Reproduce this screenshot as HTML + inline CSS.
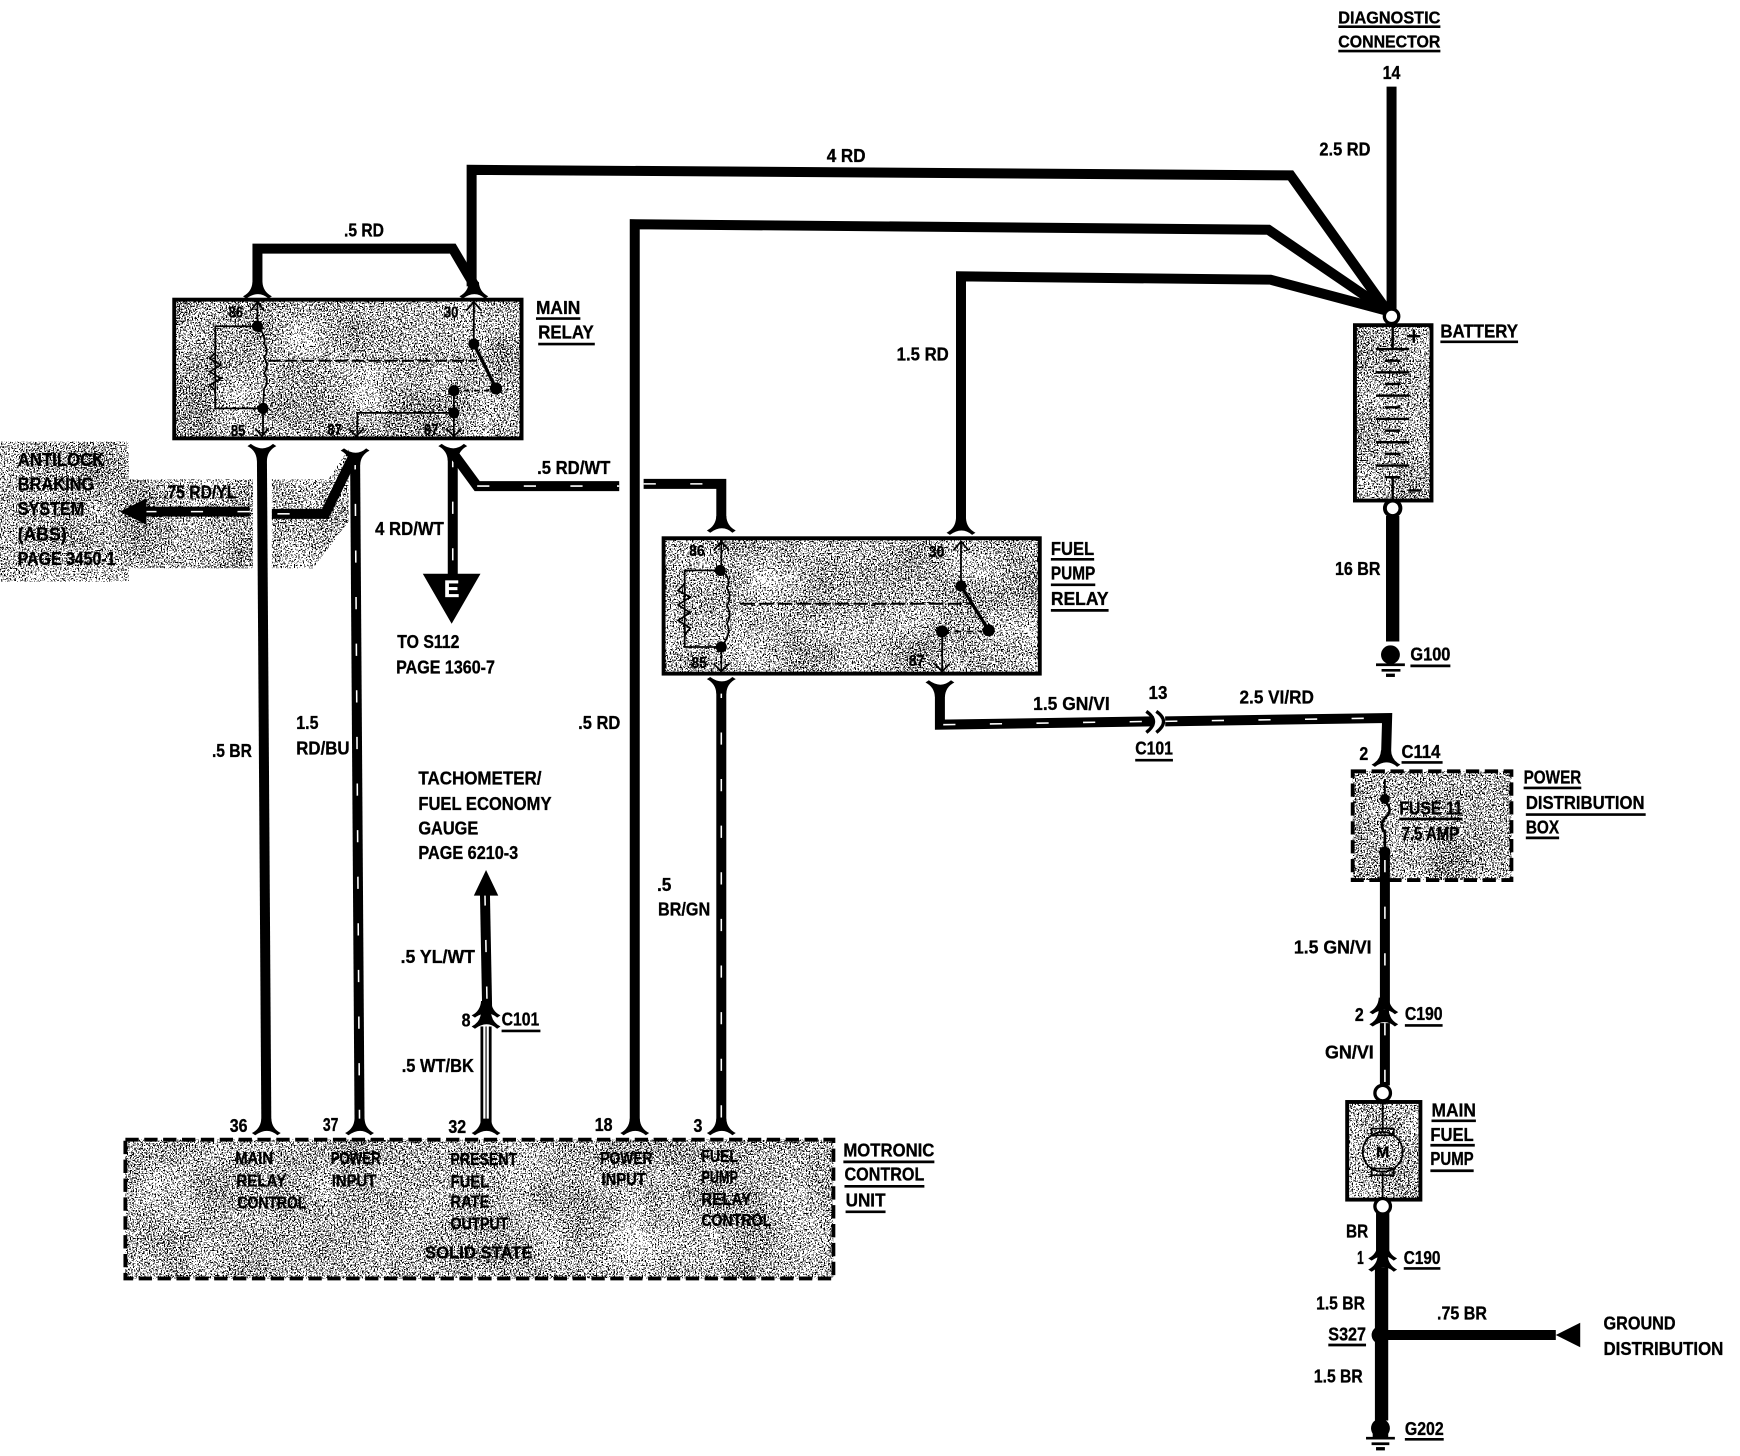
<!DOCTYPE html>
<html><head><meta charset="utf-8"><title>Wiring diagram</title>
<style>
html,body{margin:0;padding:0;background:#fff}
svg{display:block}
text{font-family:"Liberation Sans",sans-serif;font-weight:bold;font-size:17px;fill:#000;stroke:#000;stroke-width:.3}
.s{font-size:14px}
.m{font-size:16px}
.w{fill:none;stroke:#000;stroke-width:9;stroke-linejoin:miter}
.h{fill:none;stroke:#000;stroke-width:12}
.t{fill:none;stroke:#fff;stroke-width:1.4;stroke-dasharray:11 31}
.l{fill:none;stroke:#000;stroke-width:1.6}
.u{fill:none;stroke:#000;stroke-width:2.4}
.b{fill:none;stroke:#000;stroke-width:3.5}
.d{fill:none;stroke:#000;stroke-width:3.5;stroke-dasharray:12 5}
</style></head><body>
<svg width="1740" height="1456" viewBox="0 0 1568 1312" xmlns="http://www.w3.org/2000/svg">
<defs>
<filter id="n" x="0" y="0" width="100%" height="100%" color-interpolation-filters="sRGB">
<feTurbulence type="fractalNoise" baseFrequency="0.75" numOctaves="2" seed="4" result="a"/>
<feTurbulence type="fractalNoise" baseFrequency="0.02" numOctaves="2" seed="9" result="b"/>
<feComposite in="a" in2="b" operator="arithmetic" k1="0" k2="0.88" k3="0.12" k4="0"/>
<feColorMatrix type="matrix" values="0 0 0 0 0  0 0 0 0 0  0 0 0 0 0  1 0 0 0 0"/>
<feComponentTransfer result="c"><feFuncA type="discrete" tableValues="0 0 0 0 0 0 0 0 0 0 0 1 1 1 1 1 1 1 1 1"/></feComponentTransfer>
<feComposite in="c" in2="SourceAlpha" operator="in"/>
</filter>
<path id="f" d="M-13 3Q-5 -1 -4.500 -10L4.500 -10Q5 -1 13 3L10 5Q1 -3 -10 5Z"/>
</defs>
<rect width="1568" height="1312" fill="#fff"/>

<!-- stipple regions -->
<g filter="url(#n)">
<rect x="157" y="270" width="313" height="125"/>
<rect x="0" y="398" width="116" height="126"/>
<path d="M116 432H228V512H116Z"/>
<path d="M245 432H296L314 405V470L282 512H245Z"/>
<rect x="598" y="485" width="339" height="122"/>
<rect x="1221" y="293" width="69" height="158"/>
<rect x="1219" y="695" width="143" height="98"/>
<rect x="1214" y="993" width="66" height="88"/>
<rect x="113" y="1027" width="638" height="125"/>
</g>

<!-- boxes -->
<rect class="b" x="157" y="270" width="313" height="125"/>
<rect class="b" x="598" y="485" width="339" height="122"/>
<rect class="b" x="1221" y="293" width="69" height="158" stroke-width="4"/>
<rect class="b" x="1214" y="993" width="66" height="88"/>
<rect class="d" x="1219" y="695" width="143" height="98"/>
<rect class="d" x="113" y="1027" width="638" height="125"/>

<!-- solid wires -->
<path class="w" d="M425 258V153L1163 158L1250 280"/>
<path class="w" d="M232 258V224H408L428 258"/>
<path class="w" d="M572 1012V202L1143 207L1250 280"/>
<path class="w" d="M866 472V249L1145 252L1250 280"/>
<path class="w" d="M1254 78V282" stroke-width="10"/>
<path class="h" d="M1255 465V578"/>
<path class="w" d="M236 408L240 1012" stroke-width="10"/>
<path class="h" d="M1246 1093V1132"/>
<path class="h" d="M1245 1142V1280"/>
<path class="w" d="M1244 1203H1402"/>

<!-- twisted wires -->
<path class="w" d="M320 412L324 1012"/><path class="t" d="M320 412L324 1012"/>
<path class="w" d="M408 410V518"/><path class="t" d="M408 410V518"/>
<path class="w" d="M408 408L430 438H558" stroke-width="7"/><path class="t" d="M430 438H558"/>
<path class="w" d="M580 436H650V470" stroke-width="7"/><path class="t" d="M580 436H650"/>
<path class="w" d="M125 461L225 461"/><path class="t" d="M130 461L225 461"/>
<path class="w" d="M245 463H293L318 412"/><path class="t" d="M250 463H290"/>
<path class="w" d="M650 618V1012"/><path class="t" d="M650 618V1012"/>
<path class="w" d="M847 622V653L1040 650" stroke-width="7"/><path class="t" d="M850 653L1040 650"/>
<path class="w" d="M1050 650L1250 647L1249 682" stroke-width="7"/><path class="t" d="M1050 650L1248 647"/>
<path class="w" d="M1248 765V905"/><path class="t" d="M1248 775V905"/>
<path class="w" d="M1248 922V978"/><path class="t" d="M1248 922V978"/>
<path class="w" d="M437 805L439 910" stroke-width="8"/><path class="t" d="M437 805L439 910"/>
<path d="M438 925L438 1012" fill="none" stroke="#000" stroke-width="10"/><path d="M438 925L438 1012" fill="none" stroke="#fff" stroke-width="5"/><path d="M438 925L438 1012" fill="none" stroke="#000" stroke-width="1"/>

<!-- arrowheads and triangles -->
<path d="M108 461L132 449V473Z"/>
<path d="M381 517H433L407 562Z"/>
<path d="M438 784L449 807H427Z"/>
<path d="M1402 1203L1424 1192V1214Z"/>

<!-- connector forks opening down -->
<use href="#f" x="232" y="264"/><use href="#f" x="427" y="264"/>
<use href="#f" x="650" y="475"/><use href="#f" x="866" y="477"/>
<use href="#f" x="240" y="1018"/><use href="#f" x="324" y="1018"/><use href="#f" x="438" y="1018"/>
<use href="#f" x="572" y="1018"/><use href="#f" x="650" y="1018"/><use href="#f" x="1249" y="686"/>
<use href="#f" x="1246" y="1131"/><use href="#f" x="1246" y="1141"/>
<use href="#f" x="438" y="912"/><use href="#f" x="438" y="922"/>
<use href="#f" x="1247" y="909"/><use href="#f" x="1247" y="920"/>
<!-- forks opening up -->
<g transform="scale(1,-1)">
<use href="#f" x="236" y="-405"/><use href="#f" x="320" y="-409"/><use href="#f" x="408" y="-405"/>
<use href="#f" x="650" y="-615"/><use href="#f" x="847" y="-618"/>
</g>

<!-- main relay internals -->
<g class="l">
<path d="M232 272V294H194V368H237V392"/>
<path d="M232 294Q240 302 238 310Q243 316 238 322Q243 330 238 336Q243 344 238 350L237 368" fill="none"/>
<path d="M194 318L189 323L199 329L189 335L199 341L189 347L194 352" fill="none"/>
<path d="M242 325H430" stroke-width="1.8" stroke-dasharray="11 4"/>
<path d="M427 272V310"/>
<path d="M427 310L447 350" stroke-width="3"/>
<path d="M409 352H444" stroke-dasharray="5 4"/>
<path d="M409 352V392"/>
<path d="M409 372H322V394"/>
</g>
<path class="l" d="M226 280L232 272L238 280M420 280L427 272L434 280M230 386L236 393L242 386M314 386L321 393L328 386M402 386L409 393L416 386"/>
<circle cx="232" cy="294" r="5"/><circle cx="237" cy="368" r="5"/><circle cx="427" cy="310" r="5"/><circle cx="447" cy="350" r="5.500"/><circle cx="409" cy="352" r="5"/><circle cx="409" cy="372" r="5"/>

<!-- fuel pump relay internals -->
<g class="l">
<path d="M650 488V514H617V583H650V604"/>
<path d="M650 514Q660 522 655 530Q660 538 655 546Q660 554 655 562Q660 570 650 583" fill="none"/>
<path d="M617 526L611 532L622 538L611 545L622 552L611 559L622 566L617 572" fill="none"/>
<path d="M667 544H877" stroke-width="1.8" stroke-dasharray="13 4"/>
<path d="M866 488V528"/>
<path d="M866 528L891 568" stroke-width="3"/>
<path d="M849 569H885" stroke-dasharray="6 5"/>
<path d="M849 569V604"/>
</g>
<path class="l" d="M643 496L650 488L657 496M859 496L866 488L873 496M643 598L650 605L657 598M842 598L849 605L856 598"/>
<circle cx="649" cy="514" r="5"/><circle cx="650" cy="583" r="5"/><circle cx="866" cy="528" r="5"/><circle cx="891" cy="568" r="5.500"/><circle cx="849" cy="569" r="5.500"/>

<!-- battery -->
<g class="l" style="stroke-width:2.2">
<path d="M1255 293V314M1240 314.500H1270M1248 325H1262M1240 335.500H1270M1248 346H1262M1240 356.500H1270M1248 367H1262M1240 377.500H1270M1248 388H1262M1240 398.500H1270M1248 409H1262M1240 419.500H1270M1248 430H1262M1255 430V452"/>
<path d="M1268 303H1280M1274 297V309M1269 442H1281"/>
</g>
<circle cx="1254" cy="285" r="6.500" fill="#fff" stroke="#000" stroke-width="3"/>
<circle cx="1255" cy="458" r="7" fill="#fff" stroke="#000" stroke-width="3.500"/>

<!-- grounds -->
<circle cx="1253" cy="590" r="8.500"/><path class="u" d="M1240 599H1266M1245 604H1262"/><path d="M1249 607H1257V610H1249Z"/>
<circle cx="1244" cy="1287" r="8.500"/><path d="M1237 1283H1251V1295H1237Z"/><path class="u" d="M1231 1296H1257M1236 1301H1252"/><path d="M1240 1304H1248V1307H1240Z"/>
<circle cx="1244" cy="1203" r="8"/>

<!-- C101 connector on 13 -->
<path d="M1033 641Q1046 650 1033 660" fill="none" stroke="#000" stroke-width="3"/>
<path d="M1042 641Q1055 650 1042 660" fill="none" stroke="#000" stroke-width="3"/>

<!-- fuse -->
<path d="M1248 702V720" class="l" stroke-width="2"/>
<path d="M1248 722Q1256 730 1249 736Q1242 744 1248 750L1248 768" fill="none" stroke="#000" stroke-width="2.400"/>
<circle cx="1248" cy="720" r="4.500"/><circle cx="1248" cy="768" r="5"/>

<!-- motor -->
<circle cx="1246" cy="985" r="7" fill="#fff" stroke="#000" stroke-width="3"/>
<circle cx="1246" cy="1087" r="7" fill="#fff" stroke="#000" stroke-width="3"/>
<path class="l" d="M1246 993V1019M1246 1057V1081"/>
<circle cx="1246" cy="1038" r="18" fill="none" stroke="#000" stroke-width="1.600"/>
<rect class="l" x="1236" y="1017" width="20" height="6" stroke-width="2"/>
<rect class="l" x="1236" y="1053" width="20" height="6" stroke-width="2"/>

<!-- labels -->
<text x="1206" y="21" textLength="92" lengthAdjust="spacingAndGlyphs" class="m">DIAGNOSTIC</text>
<text x="1206" y="43" textLength="92" lengthAdjust="spacingAndGlyphs" class="m">CONNECTOR</text>
<path class="u" d="M1206 24H1298M1206 46H1298"/>
<text x="1246" y="71" textLength="16" lengthAdjust="spacingAndGlyphs">14</text>
<text x="1189" y="140" textLength="46" lengthAdjust="spacingAndGlyphs">2.5 RD</text>
<text x="745" y="146" textLength="35" lengthAdjust="spacingAndGlyphs">4 RD</text>
<text x="310" y="213" textLength="36" lengthAdjust="spacingAndGlyphs">.5 RD</text>
<text x="483" y="283" textLength="40" lengthAdjust="spacingAndGlyphs">MAIN</text>
<text x="485" y="305" textLength="50" lengthAdjust="spacingAndGlyphs">RELAY</text>
<path class="u" d="M483 287H523M485 310H536"/>
<text x="1298" y="304" textLength="70" lengthAdjust="spacingAndGlyphs">BATTERY</text>
<path class="u" d="M1298 308H1368"/>
<text x="808" y="325" textLength="47" lengthAdjust="spacingAndGlyphs">1.5 RD</text>
<text x="484" y="427" textLength="66" lengthAdjust="spacingAndGlyphs">.5 RD/WT</text>
<text x="338" y="482" textLength="62" lengthAdjust="spacingAndGlyphs">4 RD/WT</text>
<text x="16" y="420" textLength="78" lengthAdjust="spacingAndGlyphs">ANTILOCK</text>
<text x="16" y="442" textLength="69" lengthAdjust="spacingAndGlyphs">BRAKING</text>
<text x="16" y="464" textLength="60" lengthAdjust="spacingAndGlyphs">SYSTEM</text>
<text x="16" y="487" textLength="44" lengthAdjust="spacingAndGlyphs">(ABS)</text>
<text x="16" y="509" textLength="88" lengthAdjust="spacingAndGlyphs">PAGE 3450-1</text>
<text x="147" y="449" textLength="66" lengthAdjust="spacingAndGlyphs">.75 RD/YL</text>
<text x="400" y="538" textLength="14" lengthAdjust="spacingAndGlyphs" style="fill:#fff;stroke:#fff;font-size:22px">E</text>
<text x="358" y="584" textLength="56" lengthAdjust="spacingAndGlyphs">TO S112</text>
<text x="357" y="607" textLength="89" lengthAdjust="spacingAndGlyphs">PAGE 1360-7</text>
<text x="947" y="500" textLength="39" lengthAdjust="spacingAndGlyphs">FUEL</text>
<text x="947" y="522" textLength="40" lengthAdjust="spacingAndGlyphs">PUMP</text>
<text x="947" y="545" textLength="52" lengthAdjust="spacingAndGlyphs">RELAY</text>
<path class="u" d="M947 504H986M947 527H987M947 550H999"/>
<text x="1203" y="518" textLength="41" lengthAdjust="spacingAndGlyphs">16 BR</text>
<text x="1271" y="595" textLength="36" lengthAdjust="spacingAndGlyphs">G100</text>
<path class="u" d="M1271 600H1307"/>
<text x="191" y="682" textLength="36" lengthAdjust="spacingAndGlyphs">.5 BR</text>
<text x="267" y="657" textLength="20" lengthAdjust="spacingAndGlyphs">1.5</text>
<text x="267" y="680" textLength="48" lengthAdjust="spacingAndGlyphs">RD/BU</text>
<text x="521" y="657" textLength="38" lengthAdjust="spacingAndGlyphs">.5 RD</text>
<text x="377" y="707" textLength="111" lengthAdjust="spacingAndGlyphs">TACHOMETER/</text>
<text x="377" y="730" textLength="120" lengthAdjust="spacingAndGlyphs">FUEL ECONOMY</text>
<text x="377" y="752" textLength="54" lengthAdjust="spacingAndGlyphs">GAUGE</text>
<text x="377" y="774" textLength="90" lengthAdjust="spacingAndGlyphs">PAGE 6210-3</text>
<text x="592" y="803" textLength="13" lengthAdjust="spacingAndGlyphs">.5</text>
<text x="593" y="825" textLength="47" lengthAdjust="spacingAndGlyphs">BR/GN</text>
<text x="931" y="640" textLength="69" lengthAdjust="spacingAndGlyphs">1.5 GN/VI</text>
<text x="1035" y="630" textLength="17" lengthAdjust="spacingAndGlyphs">13</text>
<text x="1117" y="634" textLength="67" lengthAdjust="spacingAndGlyphs">2.5 VI/RD</text>
<text x="1023" y="680" textLength="34" lengthAdjust="spacingAndGlyphs">C101</text>
<path class="u" d="M1023 685H1057"/>
<text x="1225" y="685" textLength="8" lengthAdjust="spacingAndGlyphs">2</text>
<text x="1263" y="683" textLength="35" lengthAdjust="spacingAndGlyphs">C114</text>
<path class="u" d="M1263 687H1300"/>
<text x="1373" y="706" textLength="52" lengthAdjust="spacingAndGlyphs">POWER</text>
<text x="1375" y="729" textLength="107" lengthAdjust="spacingAndGlyphs">DISTRIBUTION</text>
<text x="1375" y="751" textLength="30" lengthAdjust="spacingAndGlyphs">BOX</text>
<path class="u" d="M1373 710H1425M1375 734H1483M1375 755H1405"/>
<text x="1261" y="734" textLength="57" lengthAdjust="spacingAndGlyphs">FUSE 11</text>
<path class="u" d="M1261 738H1318"/>
<text x="1263" y="757" textLength="52" lengthAdjust="spacingAndGlyphs">7.5 AMP</text>
<text x="1166" y="859" textLength="70" lengthAdjust="spacingAndGlyphs">1.5 GN/VI</text>
<text x="361" y="868" textLength="67" lengthAdjust="spacingAndGlyphs">.5 YL/WT</text>
<text x="416" y="925" textLength="8" lengthAdjust="spacingAndGlyphs">8</text>
<text x="452" y="924" textLength="34" lengthAdjust="spacingAndGlyphs">C101</text>
<path class="u" d="M452 929H487"/>
<text x="362" y="966" textLength="65" lengthAdjust="spacingAndGlyphs">.5 WT/BK</text>
<text x="1221" y="920" textLength="8" lengthAdjust="spacingAndGlyphs">2</text>
<text x="1266" y="919" textLength="34" lengthAdjust="spacingAndGlyphs">C190</text>
<path class="u" d="M1266 924H1300"/>
<text x="1194" y="954" textLength="44" lengthAdjust="spacingAndGlyphs">GN/VI</text>
<text x="1290" y="1006" textLength="40" lengthAdjust="spacingAndGlyphs">MAIN</text>
<text x="1289" y="1028" textLength="39" lengthAdjust="spacingAndGlyphs">FUEL</text>
<text x="1289" y="1050" textLength="39" lengthAdjust="spacingAndGlyphs">PUMP</text>
<path class="u" d="M1290 1010H1330M1289 1032H1329M1289 1055H1328"/>
<text x="1240" y="1043" textLength="12" lengthAdjust="spacingAndGlyphs" class="s">M</text>
<text x="1213" y="1115" textLength="20" lengthAdjust="spacingAndGlyphs">BR</text>
<text x="1223" y="1139" textLength="6" lengthAdjust="spacingAndGlyphs">1</text>
<text x="1265" y="1139" textLength="33" lengthAdjust="spacingAndGlyphs">C190</text>
<path class="u" d="M1265 1143H1298"/>
<text x="1186" y="1180" textLength="44" lengthAdjust="spacingAndGlyphs">1.5 BR</text>
<text x="1197" y="1208" textLength="34" lengthAdjust="spacingAndGlyphs">S327</text>
<path class="u" d="M1197 1212H1231"/>
<text x="1295" y="1189" textLength="45" lengthAdjust="spacingAndGlyphs">.75 BR</text>
<text x="1445" y="1198" textLength="65" lengthAdjust="spacingAndGlyphs">GROUND</text>
<text x="1445" y="1221" textLength="108" lengthAdjust="spacingAndGlyphs">DISTRIBUTION</text>
<text x="1184" y="1246" textLength="44" lengthAdjust="spacingAndGlyphs">1.5 BR</text>
<text x="1266" y="1293" textLength="35" lengthAdjust="spacingAndGlyphs">G202</text>
<path class="u" d="M1266 1297H1301"/>
<text x="207" y="1020" textLength="16" lengthAdjust="spacingAndGlyphs">36</text>
<text x="291" y="1019" textLength="14" lengthAdjust="spacingAndGlyphs">37</text>
<text x="404" y="1021" textLength="16" lengthAdjust="spacingAndGlyphs">32</text>
<text x="536" y="1019" textLength="16" lengthAdjust="spacingAndGlyphs">18</text>
<text x="625" y="1020" textLength="8" lengthAdjust="spacingAndGlyphs">3</text>
<text x="760" y="1042" textLength="82" lengthAdjust="spacingAndGlyphs">MOTRONIC</text>
<text x="761" y="1064" textLength="72" lengthAdjust="spacingAndGlyphs">CONTROL</text>
<text x="762" y="1087" textLength="36" lengthAdjust="spacingAndGlyphs">UNIT</text>
<path class="u" d="M760 1047H842M761 1069H833M762 1092H798"/>
<text x="212" y="1049" textLength="34" lengthAdjust="spacingAndGlyphs" class="m">MAIN</text>
<text x="213" y="1069" textLength="45" lengthAdjust="spacingAndGlyphs" class="m">RELAY</text>
<text x="214" y="1089" textLength="62" lengthAdjust="spacingAndGlyphs" class="m">CONTROL</text>
<text x="298" y="1049" textLength="45" lengthAdjust="spacingAndGlyphs" class="m">POWER</text>
<text x="299" y="1069" textLength="40" lengthAdjust="spacingAndGlyphs" class="m">INPUT</text>
<text x="406" y="1050" textLength="60" lengthAdjust="spacingAndGlyphs" class="m">PRESENT</text>
<text x="406" y="1070" textLength="35" lengthAdjust="spacingAndGlyphs" class="m">FUEL</text>
<text x="406" y="1088" textLength="35" lengthAdjust="spacingAndGlyphs" class="m">RATE</text>
<text x="406" y="1108" textLength="52" lengthAdjust="spacingAndGlyphs" class="m">OUTPUT</text>
<text x="383" y="1134" textLength="97" lengthAdjust="spacingAndGlyphs" class="m">SOLID STATE</text>
<text x="541" y="1049" textLength="47" lengthAdjust="spacingAndGlyphs" class="m">POWER</text>
<text x="542" y="1068" textLength="40" lengthAdjust="spacingAndGlyphs" class="m">INPUT</text>
<text x="632" y="1047" textLength="33" lengthAdjust="spacingAndGlyphs" class="m">FUEL</text>
<text x="632" y="1066" textLength="33" lengthAdjust="spacingAndGlyphs" class="m">PUMP</text>
<text x="632" y="1086" textLength="45" lengthAdjust="spacingAndGlyphs" class="m">RELAY</text>
<text x="632" y="1105" textLength="63" lengthAdjust="spacingAndGlyphs" class="m">CONTROL</text>
<text x="206" y="286" textLength="13" lengthAdjust="spacingAndGlyphs" class="s">86</text>
<text x="400" y="286" textLength="13" lengthAdjust="spacingAndGlyphs" class="s">30</text>
<text x="208" y="393" textLength="13" lengthAdjust="spacingAndGlyphs" class="s">85</text>
<text x="295" y="392" textLength="13" lengthAdjust="spacingAndGlyphs" class="s">87</text>
<text x="382" y="392" textLength="13" lengthAdjust="spacingAndGlyphs" class="s">87</text>
<text x="621" y="501" textLength="14" lengthAdjust="spacingAndGlyphs" class="s">86</text>
<text x="837" y="502" textLength="14" lengthAdjust="spacingAndGlyphs" class="s">30</text>
<text x="623" y="602" textLength="14" lengthAdjust="spacingAndGlyphs" class="s">85</text>
<text x="819" y="600" textLength="14" lengthAdjust="spacingAndGlyphs" class="s">87</text>
</svg>
</body></html>
